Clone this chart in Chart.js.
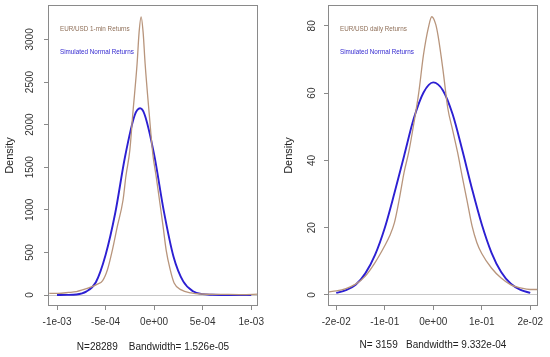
<!DOCTYPE html>
<html>
<head>
<meta charset="utf-8">
<script src="https://cdn.jsdelivr.net/npm/chart.js@4.4.1/dist/chart.umd.min.js"></script>
<style>
  html, body { margin: 0; padding: 0; background: #fff; }
  #wrap { position: relative; width: 550px; height: 357px; }
  .panel { position: absolute; top: 0; width: 275px; height: 357px; }
</style>
</head>
<body>
<div id="wrap">
  <div class="panel" style="left:0"><canvas id="c1" width="275" height="357"></canvas></div>
  <div class="panel" style="left:275px"><canvas id="c2" width="275" height="357"></canvas></div>
</div>
<script>
// left panel: 1-min returns
const minBrownX = [-10.8e-4, -9.9e-4, -8.8e-4, -8.0e-4, -7.4e-4, -6.4e-4, -5.9e-4, -5.3e-4, -4.8e-4, -4.3e-4, -3.8e-4, -3.2e-4, -2.9e-4, -2.5e-4, -2.2e-4, -1.75e-4, -1.55e-4, -1.34e-4, -1.13e-4, -0.93e-4, -0.5e-4, -0.13e-4, 0.2e-4, 0.55e-4, 0.93e-4, 1.24e-4, 1.65e-4, 2.06e-4, 2.8e-4, 3.8e-4, 4.8e-4, 6.9e-4, 9.0e-4, 10.8e-4]
const minBrownY = [20, 20, 30, 40, 59, 98, 125, 170, 300, 528, 800, 1115, 1400, 1700, 2120, 2720, 3080, 3265, 3080, 2720, 2120, 1650, 1400, 1115, 800, 528, 300, 141, 60, 25, 12, 8, 5, 10]
const minBlueX = [-10.0e-4, -9.0e-4, -8.0e-4, -7.0e-4, -6.0e-4, -5.0e-4, -4.0e-4, -3.0e-4, -2.0e-4, -1.45e-4, -1.0e-4, 0, 1.0e-4, 2.0e-4, 3.0e-4, 4.0e-4, 5.0e-4, 6.0e-4, 8.0e-4, 10.0e-4]
const minBlueY = [0, 1, 6, 40, 150, 470, 965, 1620, 2110, 2192, 2125, 1650, 985, 450, 160, 45, 10, 3, 0, 0]
const minXTicks = [-1e-3, -5e-4, 0, 5e-4, 1e-3]
const minXLabels = ['-1e-03', '-5e-04', '0e+00', '5e-04', '1e-03']
const minYTicks = [0, 500, 1000, 1500, 2000, 2500, 3000]

// right panel: daily returns
const dayBrownX = [-2.17e-2, -2.0e-2, -1.8e-2, -1.6e-2, -1.4e-2, -1.2e-2, -1.0e-2, -0.9e-2, -0.8e-2, -0.7e-2, -0.6e-2, -0.5e-2, -0.4e-2, -0.3e-2, -0.2e-2, -0.1e-2, -0.03e-2, 0.05e-2, 0.1e-2, 0.2e-2, 0.3e-2, 0.4e-2, 0.5e-2, 0.6e-2, 0.7e-2, 0.8e-2, 0.9e-2, 1.0e-2, 1.2e-2, 1.4e-2, 1.6e-2, 1.8e-2, 2.0e-2, 2.17e-2]
const dayBrownY = [0.9, 1.2, 1.9, 3.2, 5.6, 9.6, 14.6, 17.5, 21.5, 28.5, 36.5, 42.8, 51, 60, 71.5, 79.5, 82.7, 80.5, 77, 67, 55.5, 49, 42.5, 35, 27.8, 20.5, 15.5, 12.3, 8.0, 5.0, 3.0, 2.1, 1.6, 1.6]
const dayBlueX = [-2.0e-2, -1.8e-2, -1.6e-2, -1.4e-2, -1.2e-2, -1.0e-2, -0.8e-2, -0.6e-2, -0.4e-2, -0.2e-2, 0, 0.2e-2, 0.4e-2, 0.6e-2, 0.8e-2, 1.0e-2, 1.2e-2, 1.4e-2, 1.6e-2, 1.8e-2, 2.0e-2]
const dayBlueY = [0.6, 1.4, 3.0, 6.4, 11.9, 19.9, 30.3, 41.4, 52.5, 60.2, 63.2, 60.8, 53.7, 43.0, 31.5, 21.0, 12.6, 6.8, 3.3, 1.5, 0.6]
const dayXTicks = [-2e-2, -1e-2, 0, 1e-2, 2e-2]
const dayXLabels = ['-2e-02', '-1e-01', '0e+00', '1e-01', '2e-02']
const dayYTicks = [0, 20, 40, 60, 80]

const FONT = '"Liberation Sans", Arial, sans-serif'
const BOX = '#8a8a8a'
const BROWN = '#b8957c'
const BLUE = '#2c1fd2'

const pts = (xs, ys) => xs.map((x, i) => ({x: x, y: ys[i]}))

// grey frame round the plot and the two notes in the corner
const frame = {
    id: 'frame',
    afterDraw(chart, args, opts) {
        const {ctx, chartArea: a} = chart
        ctx.save()
        ctx.strokeStyle = BOX
        ctx.lineWidth = 1
        ctx.strokeRect(a.left + 0.5, a.top + 0.5, a.right - a.left - 1, a.bottom - a.top - 1)
        ctx.font = '6.3px ' + FONT
        ctx.textBaseline = 'middle'
        opts.notes.forEach((n, i) => {
            ctx.fillStyle = n.color
            ctx.fillText(n.text, a.left + 12, a.top + 24 + i * 23)
        })
        ctx.restore()
    }
}

function panel(id, p) {
    return new Chart(document.getElementById(id), {
        type: 'line',
        data: {
            datasets: [
                {data: pts(p.brownX, p.brownY), borderColor: BROWN, borderWidth: 1.3, pointRadius: 0, cubicInterpolationMode: 'monotone'},
                {data: pts(p.blueX, p.blueY), borderColor: BLUE, borderWidth: 1.9, pointRadius: 0, cubicInterpolationMode: 'monotone'}
            ]
        },
        options: {
            responsive: false,
            animation: false,
            layout: {padding: {top: 5, right: p.padRight, left: 0, bottom: 0}},
            plugins: {
                legend: {display: false},
                tooltip: {enabled: false},
                frame: {notes: p.notes}
            },
            scales: {
                x: {
                    type: 'linear',
                    min: p.xMin, max: p.xMax,
                    afterBuildTicks: s => { s.ticks = p.xTicks.map(v => ({value: v})) },
                    afterFit: s => { s.height = 51; s.paddingLeft = 0; s.paddingRight = 0 },
                    border: {display: false},
                    grid: {drawOnChartArea: false, drawTicks: true, tickLength: 4, tickColor: BOX},
                    ticks: {
                        autoSkip: false, maxRotation: 0, padding: 6, color: '#333',
                        font: {family: FONT, size: 10},
                        callback: (v, i) => p.xLabels[i]
                    },
                    title: {display: true, text: p.subtitle, color: '#222', font: {family: FONT, size: 10}, padding: {top: 0, bottom: p.subPad}}
                },
                y: {
                    type: 'linear',
                    min: p.yMin, max: p.yMax,
                    afterBuildTicks: s => { s.ticks = p.yTicks.map(v => ({value: v})) },
                    afterFit: s => { s.width = p.yWidth; s.paddingTop = 0; s.paddingBottom = 0 },
                    border: {display: false},
                    grid: {
                        drawTicks: true, tickLength: 4, tickColor: BOX,
                        color: c => (c.tick && c.tick.value === 0) ? '#c8c8c8' : 'rgba(0,0,0,0)'
                    },
                    ticks: {
                        minRotation: 90, maxRotation: 90, crossAlign: 'center', padding: p.yPad,
                        color: '#333', font: {family: FONT, size: 10},
                        callback: v => String(v)
                    },
                    title: {display: true, text: 'Density', color: '#222', font: {family: FONT, size: 11}, padding: {top: p.titlePad, bottom: 0}}
                }
            }
        },
        plugins: [frame]
    })
}

panel('c1', {
    brownX: minBrownX, brownY: minBrownY, blueX: minBlueX, blueY: minBlueY,
    xTicks: minXTicks, xLabels: minXLabels, yTicks: minYTicks,
    xMin: -1.093e-3, xMax: 1.07e-3, yMin: -129, yMax: 3404,
    padRight: 17, yWidth: 48, yPad: 3, titlePad: 3, subPad: 4,
    subtitle: 'N=28289    Bandwidth= 1.526e-05',
    notes: [{text: 'EUR/USD 1-min Returns', color: '#8f6f58'}, {text: 'Simulated Normal Returns', color: '#3328d0'}]
})

panel('c2', {
    brownX: dayBrownX, brownY: dayBrownY, blueX: dayBlueX, blueY: dayBlueY,
    xTicks: dayXTicks, xLabels: dayXLabels, yTicks: dayYTicks,
    xMin: -2.17e-2, xMax: 2.16e-2, yMin: -3.3, yMax: 86.2,
    padRight: 12, yWidth: 53, yPad: 6, titlePad: 7, subPad: 6,
    subtitle: 'N= 3159   Bandwidth= 9.332e-04',
    notes: [{text: 'EUR/USD daily Returns', color: '#8f6f58'}, {text: 'Simulated Normal Returns', color: '#3328d0'}]
})
</script>
</body>
</html>
